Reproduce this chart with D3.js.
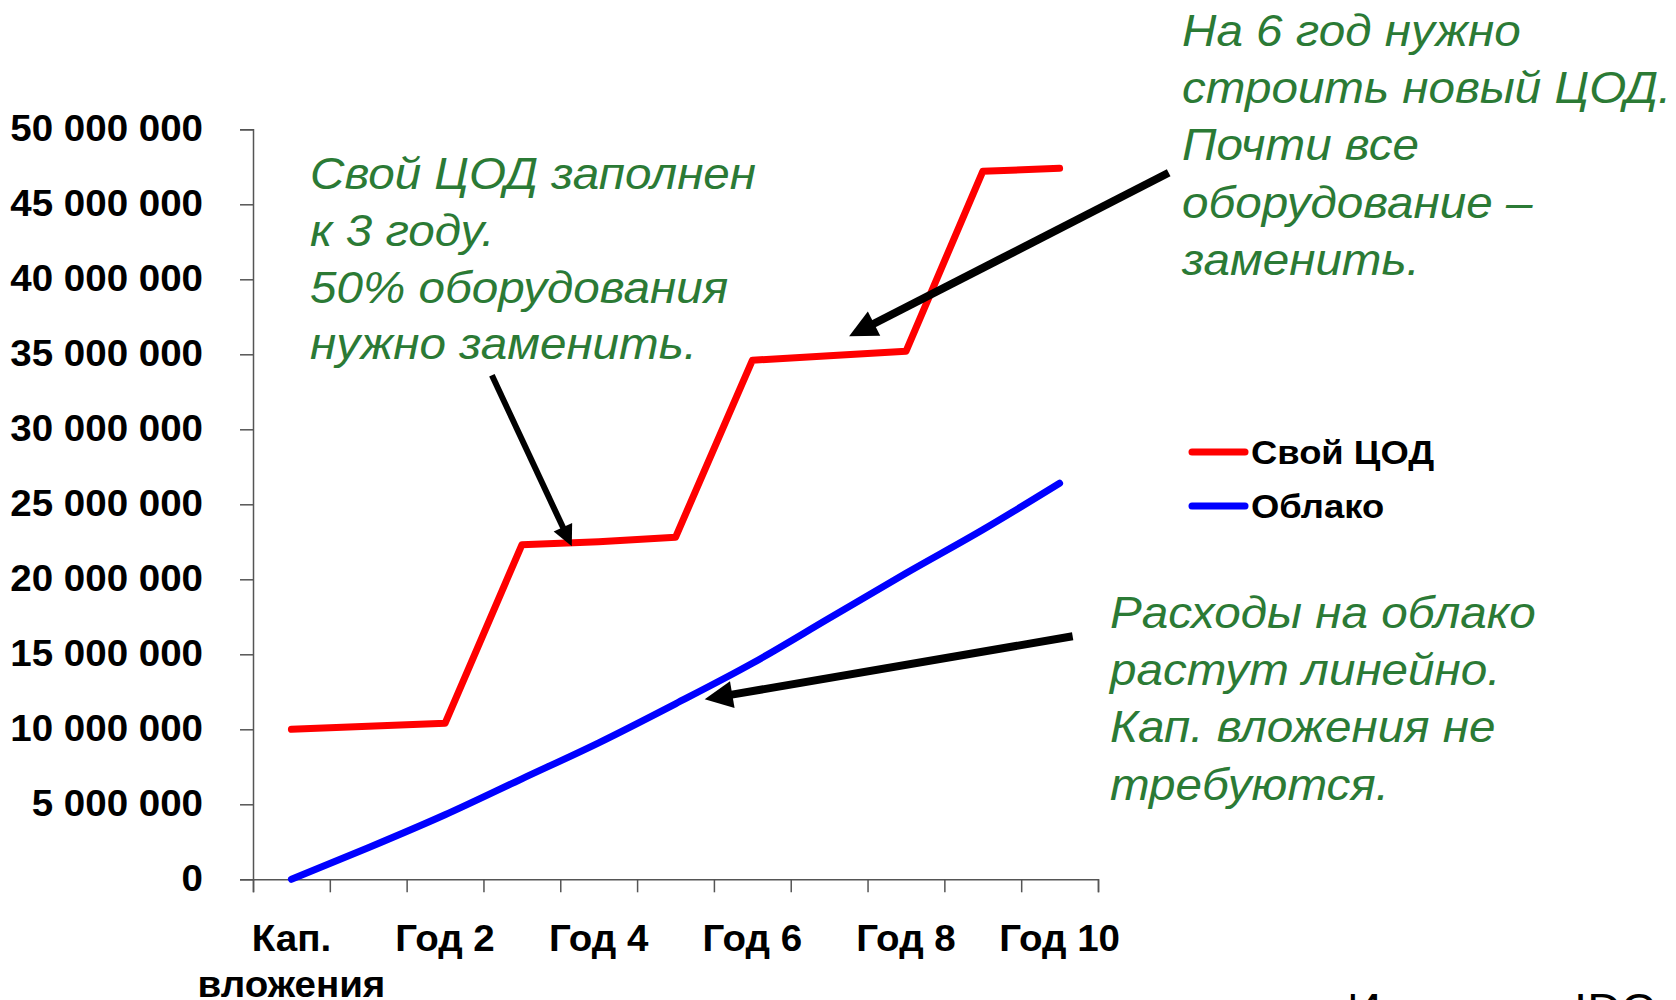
<!DOCTYPE html>
<html>
<head>
<meta charset="utf-8">
<script src="https://cdn.jsdelivr.net/npm/d3@7"></script>
<style>
  body { margin: 0; background: #fff; }
  svg { display: block; font-family: "Liberation Sans", Arial, sans-serif; }
</style>
</head>
<body>
<div id="chart"></div>
<script>
const w = 1676, h = 1000
const sx = 1.07 // text in the picture is a bit wider than tall

// data
const categories = ["Кап. вложения", "Год 1", "Год 2", "Год 3", "Год 4", "Год 5",
    "Год 6", "Год 7", "Год 8", "Год 9", "Год 10"]
const ownDC = [10.0e6, 10.2e6, 10.4e6, 22.3e6, 22.5e6, 22.8e6, 34.6e6, 34.9e6, 35.2e6, 47.2e6, 47.4e6]
const cloud = [0, 2.1e6, 4.3e6, 6.7e6, 9.1e6, 11.7e6, 14.4e6, 17.4e6, 20.4e6, 23.3e6, 26.4e6]
const yTicks = [0, 5e6, 10e6, 15e6, 20e6, 25e6, 30e6, 35e6, 40e6, 45e6, 50e6]
const xLabelIdx = [0, 2, 4, 6, 8, 10]
const seriesNames = ["Свой ЦОД", "Облако"]
const seriesColors = ["#ff0000", "#0000ff"]

const note1 = ["Свой ЦОД заполнен", "к 3 году.", "50% оборудования", "нужно заменить."]
const note2 = ["На 6 год нужно", "строить новый ЦОД.", "Почти все", "оборудование –", "заменить."]
const note3 = ["Расходы на облако", "растут линейно.", "Кап. вложения не", "требуются."]
// arrows in data space: [index from, value from, index to, value to, width]
const arrows = [
    [2.61, 33.6e6, 3.65, 22.2e6, 6],
    [11.42, 47.1e6, 7.26, 36.2e6, 8],
    [10.17, 16.2e6, 5.38, 12.0e6, 8]
]

//scales
const x = d3.scaleBand().domain(categories).range([253, 1098]).padding(0)
const xEdge = d3.scaleLinear().domain([0, 11]).range([253, 1098])
const xi = d3.scaleLinear().domain([0, 10]).range([x(categories[0]) + x.bandwidth() / 2, x(categories[10]) + x.bandwidth() / 2])
const y = d3.scaleLinear().domain([0, 50e6]).range([879.3, 129.3])

const svg = d3.select("#chart").append("svg")
    .attr("width", w)
    .attr("height", h)

const fmt = v => d3.format(",")(v).replace(/,/g, " ")

function stretchText(sel, px, py) {
    return sel.attr("transform", "translate(" + px + "," + py + ") scale(" + sx + ",1)")
}

// y axis
const yAxis = svg.append("g")
    .attr("transform", "translate(253,0)")
    .call(d3.axisLeft(y).tickValues(yTicks).tickSize(13).tickPadding(37).tickFormat(fmt))
yAxis.select(".domain").attr("stroke", "#555").attr("stroke-width", 1.5)
yAxis.selectAll(".tick line").attr("stroke", "#555").attr("stroke-width", 1.5)
yAxis.selectAll(".tick text")
    .attr("font-size", 36)
    .attr("font-weight", "bold")
    .attr("fill", "#000")
    .attr("font-family", "Liberation Sans, Arial, sans-serif")
    .each(function () {
        const t = d3.select(this)
        const xx = +t.attr("x")
        t.attr("x", null).attr("transform", "translate(" + xx + ",0) scale(" + sx + ",1)")
    })

// x axis
const xAxis = svg.append("g")
    .attr("transform", "translate(0," + y(0) + ")")
    .call(d3.axisBottom(xEdge).tickValues(d3.range(12)).tickSize(13).tickFormat(""))
xAxis.select(".domain").attr("stroke", "#555").attr("stroke-width", 1.5)
xAxis.selectAll(".tick line").attr("stroke", "#555").attr("stroke-width", 1.5)

const xLabels = svg.append("g")
    .attr("font-size", 36)
    .attr("font-weight", "bold")
    .attr("text-anchor", "middle")
    .attr("fill", "#000")

xLabelIdx.forEach(i => {
    const words = i === 0 ? ["Кап.", "вложения"] : [categories[i]]
    words.forEach((wd, k) => {
        xLabels.append("text")
            .call(stretchText, x(categories[i]) + x.bandwidth() / 2, 951 + k * 46)
            .text(wd)
    })
})

// lines
const lineRed = d3.line()
    .x((d, i) => x(categories[i]) + x.bandwidth() / 2)
    .y(d => y(d))
const lineBlue = d3.line()
    .x((d, i) => x(categories[i]) + x.bandwidth() / 2)
    .y(d => y(d))
    .curve(d3.curveMonotoneX)

svg.selectAll("path.series")
    .data([ownDC, cloud])
    .enter()
    .append("path")
    .attr("class", "series")
    .attr("d", (d, i) => i === 0 ? lineRed(d) : lineBlue(d))
    .attr("fill", "none")
    .attr("stroke", (d, i) => seriesColors[i])
    .attr("stroke-width", 7)
    .attr("stroke-linejoin", "round")
    .attr("stroke-linecap", "round")

// legend
const legend = svg.append("g")
seriesNames.forEach((name, i) => {
    const ly = 452 + i * 54
    legend.append("line")
        .attr("x1", 1192).attr("x2", 1245)
        .attr("y1", ly).attr("y2", ly)
        .attr("stroke", seriesColors[i])
        .attr("stroke-width", 7)
        .attr("stroke-linecap", "round")
    legend.append("text")
        .call(stretchText, 1251, ly + 12)
        .attr("font-size", 34)
        .attr("font-weight", "bold")
        .attr("fill", "#000")
        .text(name)
})

// notes
function drawNote(lines, px, py, step) {
    const g = svg.append("g")
        .attr("font-size", 44.5)
        .attr("font-style", "italic")
        .attr("fill", "#2b7a35")
    lines.forEach((t, i) => {
        g.append("text").call(stretchText, px, py + i * step).text(t)
    })
}
drawNote(note1, 310, 189, 56.8)
drawNote(note2, 1182, 46, 57.2)
drawNote(note3, 1110, 628, 57.2)

// arrows
arrows.forEach(a => {
    const x1 = xi(a[0]), y1 = y(a[1]), x2 = xi(a[2]), y2 = y(a[3])
    const sw = a[4]
    const len = sw * 3.5, hw = sw * 1.7
    const ang = Math.atan2(y2 - y1, x2 - x1)
    const bx = x2 - len * Math.cos(ang), by = y2 - len * Math.sin(ang)
    svg.append("line")
        .attr("x1", x1).attr("y1", y1)
        .attr("x2", bx + 2 * Math.cos(ang)).attr("y2", by + 2 * Math.sin(ang))
        .attr("stroke", "#000")
        .attr("stroke-width", sw)
    const px = -Math.sin(ang), py = Math.cos(ang)
    svg.append("polygon")
        .attr("points", [[x2, y2], [bx + px * hw, by + py * hw], [bx - px * hw, by - py * hw]].join(" "))
        .attr("fill", "#000")
})

// source (cut off at the bottom in the picture)
svg.append("text")
    .call(stretchText, 1347, 1025)
    .attr("font-size", 44)
    .attr("fill", "#000")
    .text("Источник: IDC")
</script>
</body>
</html>
